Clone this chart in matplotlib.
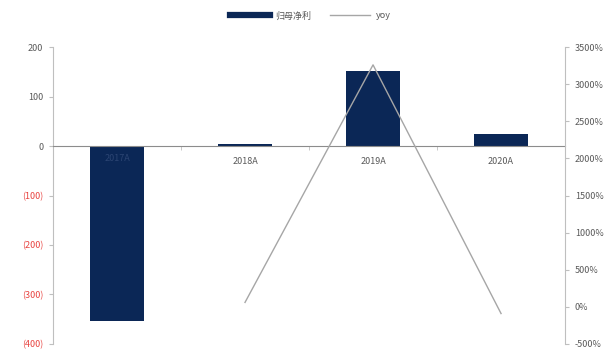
import numpy as np
import matplotlib
matplotlib.use('Agg')
import matplotlib.pyplot as plt
from matplotlib.lines import Line2D
from matplotlib.ticker import FixedLocator

plt.rcParams['font.family'] = ['Noto Sans CJK SC', 'DejaVu Sans']

# 数据
anos = ['2017A', '2018A', '2019A', '2020A']
lucro = [-354, 3.5, 151, 24]          # 归母净利
yoy_anos = ['2018A', '2019A', '2020A']
yoy = [60, 3260, -90]                  # yoy (%)

cor_barra = '#0b2756'
cor_linha = '#a6a6a6'
cor_eixo = '#bfbfbf'
cor_texto = '#595959'

fig = plt.figure(figsize=(6.14, 3.51), dpi=100)
ax = fig.add_axes([0.0863, 0.020, 0.834, 0.846])

x = np.arange(len(anos))
ax.bar(x, lucro, width=0.42, color=cor_barra, zorder=2)
ax.set_xlim(-0.5, len(anos) - 0.5)
ax.set_ylim(-400, 200)
ax.set_yticks(np.arange(-400, 201, 100))
rotulos_esq = [f'({abs(v)})' if v < 0 else str(v) for v in range(-400, 201, 100)]
ax.set_yticklabels(rotulos_esq)
for lab, v in zip(ax.get_yticklabels(), range(-400, 201, 100)):
    lab.set_color('#e8423f' if v < 0 else cor_texto)

ax.set_axisbelow(True)
ax.spines['top'].set_visible(False)
ax.spines['right'].set_visible(False)
ax.spines['left'].set_color(cor_eixo)
ax.spines['bottom'].set_position(('data', 0))
ax.spines['bottom'].set_color('#8c8c8c')
ax.spines['bottom'].set_linewidth(0.8)

# rótulos das categorias: o que cai sobre a barra negativa fica por cima dela
ax.set_xticks(x)
ax.set_xticklabels(['' if l < 0 else a for a, l in zip(anos, lucro)])
for xi, a, l in zip(x, anos, lucro):
    if l < 0:
        ax.text(xi, -25, a, ha='center', va='center', fontsize=6.5,
                color='#2c4573', zorder=3)
ax.xaxis.set_minor_locator(FixedLocator([0.5, 1.5, 2.5]))
ax.tick_params(axis='x', which='major', length=0, pad=8, labelsize=6.5, labelcolor=cor_texto)
ax.tick_params(axis='x', which='minor', length=3, color=cor_eixo, direction='out')
ax.tick_params(axis='y', length=3, color=cor_eixo, labelsize=6.5, pad=4)

# eixo secundário: yoy
ax2 = ax.twinx()
ax2.plot([anos.index(a) for a in yoy_anos], yoy, color=cor_linha, lw=1.0)
ax2.set_ylim(-500, 3500)
ax2.set_yticks(np.arange(-500, 3501, 500))
ax2.set_yticklabels([f'{v}%' for v in range(-500, 3501, 500)])
ax2.tick_params(axis='y', length=3, color=cor_eixo, labelsize=6.5, labelcolor=cor_texto, pad=4)
for s in ['top', 'left', 'bottom']:
    ax2.spines[s].set_visible(False)
ax2.spines['right'].set_color(cor_eixo)

# legenda
handles = [Line2D([], [], color=cor_barra, lw=4.5),
           Line2D([], [], color=cor_linha, lw=1.0)]
fig.legend(handles, ['归母净利', 'yoy'], loc='center', bbox_to_anchor=(0.505, 0.955),
           ncol=2, frameon=False, fontsize=6.5, labelcolor=cor_texto,
           handlelength=4.5, columnspacing=2.0, handletextpad=0.6)

fig.savefig('out.png', dpi=100)
